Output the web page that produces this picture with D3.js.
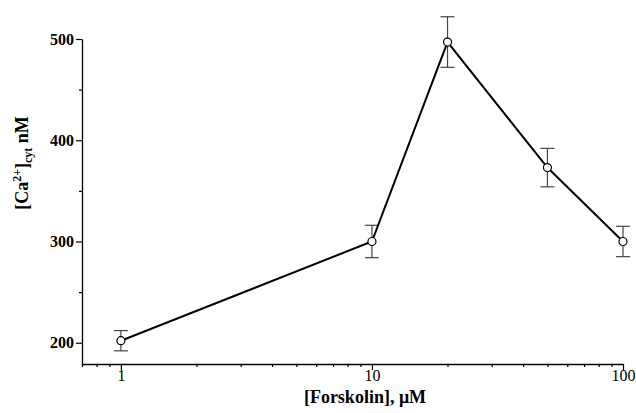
<!DOCTYPE html>
<html>
<head>
<meta charset="utf-8">
<script src="https://cdn.jsdelivr.net/npm/d3@7"></script>
<style>
  body { margin: 0; background: #fff; }
  svg { font-family: "Liberation Serif", "Times New Roman", serif; }
</style>
</head>
<body>
<svg width="636" height="413"></svg>
<script>
// data
const conc = [1, 10, 20, 50, 100];          // forskolin, µM
const ca = [202, 300, 497, 373, 300];       // [Ca2+]cyt, nM
const err = [10, 16, 25, 19, 15];           // error bar half-height
const yTicks = [200, 300, 400, 500];
const yMinor = [250, 350, 450];
const xTicks = [1, 10, 100];

const svg = d3.select("svg");

const x = d3.scaleLog().domain([0.70, 100]).range([82, 623]);
const y = d3.scaleLinear().domain([179, 500]).range([364, 39]);

// x axis, with minor ticks 2..9 per decade
const xMinor = [];
for (const d of [0.1, 1, 10]) for (let k = 2; k <= 9; k++) xMinor.push(d * k);
const xMinorIn = xMinor.filter(v => v >= 0.7 && v <= 100);

const gx = svg.append("g").attr("transform", "translate(0,364)");
gx.call(d3.axisBottom(x).tickValues(xTicks).tickFormat(d3.format("d")).tickSize(6).tickSizeOuter(0));
gx.append("g").call(d3.axisBottom(x).tickValues(xMinorIn).tickFormat("").tickSize(3).tickSizeOuter(0))
  .select(".domain").remove();

// y axis
const gy = svg.append("g").attr("transform", "translate(82,0)");
gy.call(d3.axisLeft(y).tickValues(yTicks).tickSize(6).tickSizeOuter(0));
gy.append("g").call(d3.axisLeft(y).tickValues(yMinor).tickFormat("").tickSize(3).tickSizeOuter(0))
  .select(".domain").remove();

svg.selectAll(".domain").attr("stroke", "#000").attr("stroke-width", 1.3);
svg.selectAll(".tick line").attr("stroke", "#000").attr("stroke-width", 1.2);
svg.selectAll(".tick text")
  .attr("font-family", "Liberation Serif, serif")
  .attr("font-size", 16)
  .attr("fill", "#000");
gy.selectAll(".tick text").attr("x", -8).attr("font-weight", "bold");
gx.selectAll(".tick text").attr("y", 6);

const data = conc.map((c, i) => ({ c, v: ca[i], e: err[i] }));

// error bars
const eb = svg.append("g").attr("stroke", "#444").attr("stroke-width", 1.2);
data.forEach(d => {
  const cx = x(d.c);
  eb.append("line").attr("x1", cx).attr("x2", cx).attr("y1", y(d.v + d.e)).attr("y2", y(d.v - d.e));
  eb.append("line").attr("x1", cx - 7).attr("x2", cx + 7).attr("y1", y(d.v + d.e)).attr("y2", y(d.v + d.e));
  eb.append("line").attr("x1", cx - 7).attr("x2", cx + 7).attr("y1", y(d.v - d.e)).attr("y2", y(d.v - d.e));
});

// line
svg.append("path")
  .datum(data)
  .attr("fill", "none")
  .attr("stroke", "#000")
  .attr("stroke-width", 2)
  .attr("d", d3.line().x(d => x(d.c)).y(d => y(d.v)));

// points
svg.selectAll(".pt")
  .data(data)
  .enter()
  .append("circle")
  .attr("class", "pt")
  .attr("cx", d => x(d.c))
  .attr("cy", d => y(d.v))
  .attr("r", 4)
  .attr("fill", "#fff")
  .attr("stroke", "#000")
  .attr("stroke-width", 1.2);

// axis titles
svg.append("text")
  .attr("x", 365).attr("y", 403)
  .attr("text-anchor", "middle")
  .attr("font-size", 18).attr("font-weight", "bold")
  .text("[Forskolin], μM");

const yt = svg.append("text")
  .attr("transform", "translate(28,163) rotate(-90)")
  .attr("text-anchor", "middle")
  .attr("font-size", 18).attr("font-weight", "bold");
yt.append("tspan").text("[Ca");
yt.append("tspan").attr("font-size", 12).attr("dy", -7).text("2+");
yt.append("tspan").attr("dy", 7).text("]");
yt.append("tspan").attr("font-size", 12).attr("dy", 4).text("cyt");
yt.append("tspan").attr("dy", -4).text(" nM");
</script>
</body>
</html>
